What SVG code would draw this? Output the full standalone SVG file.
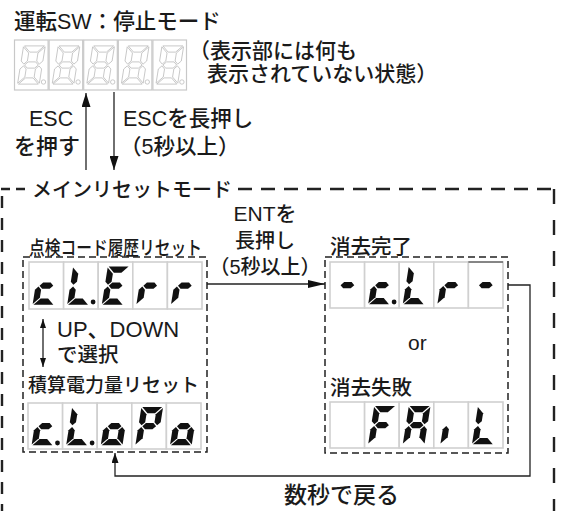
<svg xmlns="http://www.w3.org/2000/svg" width="562" height="511" viewBox="0 0 562 511">
<style>
.t{font-family:"Liberation Sans","Noto Sans CJK JP",sans-serif;font-weight:500;fill:#1a1a1a}
.cell{fill:#fff;stroke:#d0d0d0;stroke-width:1.6}
.gcell{fill:#fff;stroke:#c8c8c8;stroke-width:1.2}
.on{fill:#111}
.ghost{fill:none;stroke:#bdbdbd;stroke-width:0.8}
.box{fill:none;stroke:#222;stroke-width:1.5;stroke-dasharray:7 4}
.ln{fill:none;stroke:#222;stroke-width:1.3}
.mb{fill:none;stroke:#222;stroke-width:2.4}
</style>
<defs>
<polygon id="sa" points="-2.2,-3.1 17.7,-3.1 11.5,3.1 4,3.1"/>
<polygon id="sb" points="18.6,-2.2 18.6,12 15.5,15.1 12.4,12 12.4,4"/>
<polygon id="sc" points="15.5,16.9 18.6,20 18.6,34.2 12.4,28 12.4,20"/>
<polygon id="sd" points="4,28.9 11.5,28.9 17.7,35.1 -2.2,35.1"/>
<polygon id="se" points="0,16.9 3.1,20 3.1,28 -3.1,34.2 -3.1,20"/>
<polygon id="sf" points="-3.1,-2.2 3.1,4 3.1,12 0,15.1 -3.1,12"/>
<polygon id="sg" points="0.9,16 4,12.9 11.5,12.9 14.6,16 11.5,19.1 4,19.1"/>
<g id="k8"><use href="#sa"/><use href="#sb"/><use href="#sc"/><use href="#sd"/><use href="#se"/><use href="#sf"/><use href="#sg"/></g>
<g id="kc"><use href="#sg"/><use href="#se"/><use href="#sd"/></g>
<g id="kL"><use href="#sf"/><use href="#se"/><use href="#sd"/></g>
<g id="kE"><use href="#sa"/><use href="#sf"/><use href="#sg"/><use href="#se"/><use href="#sd"/></g>
<g id="kr"><use href="#se"/><use href="#sg"/></g>
<g id="kdash"><use href="#sg"/></g>
<g id="ko"><use href="#sc"/><use href="#sd"/><use href="#se"/><use href="#sg"/></g>
<g id="kP"><use href="#sa"/><use href="#sb"/><use href="#sf"/><use href="#sg"/><use href="#se"/></g>
<g id="kF"><use href="#sa"/><use href="#sf"/><use href="#sg"/><use href="#se"/></g>
<g id="kA"><use href="#sa"/><use href="#sb"/><use href="#sc"/><use href="#se"/><use href="#sf"/><use href="#sg"/></g>
<g id="ki"><use href="#se"/></g>
<marker id="ah" viewBox="0 0 14 9" refX="14" refY="4.5" markerWidth="14" markerHeight="9" markerUnits="userSpaceOnUse" orient="auto"><path d="M0,0 L14,4.5 L0,9 z" fill="#111"/></marker>
<marker id="ahs" viewBox="0 0 9 6" refX="9" refY="3" markerWidth="9" markerHeight="6" markerUnits="userSpaceOnUse" orient="auto-start-reverse"><path d="M0,0 L9,3 L0,6 z" fill="#111"/></marker>
<marker id="ahb" viewBox="0 0 17 8" refX="17" refY="4" markerWidth="17" markerHeight="8" markerUnits="userSpaceOnUse" orient="auto"><path d="M0,0 L17,4 L0,8 z" fill="#111"/></marker>
<marker id="ahr" viewBox="0 0 10 7" refX="10" refY="3.5" markerWidth="10" markerHeight="7" markerUnits="userSpaceOnUse" orient="auto"><path d="M0,0 L10,3.5 L0,7 z" fill="#111"/></marker>
</defs>
<rect width="562" height="511" fill="#fff"/>

<g id="stop-mode">
<text class="t" x="14" y="29" font-size="21.5">運転SW：停止モード</text>
<g id="blank-display">
<rect class="gcell" x="14.5" y="40" width="33.6" height="50"/>
<rect class="gcell" x="49.1" y="40" width="33.6" height="50"/>
<rect class="gcell" x="83.7" y="40" width="33.6" height="50"/>
<rect class="gcell" x="118.3" y="40" width="33.6" height="50"/>
<rect class="gcell" x="152.9" y="40" width="33.6" height="50"/>
<use href="#k8" class="ghost" transform="translate(26.2,49) skewX(-9)"/>
<use href="#k8" class="ghost" transform="translate(60.8,49) skewX(-9)"/>
<use href="#k8" class="ghost" transform="translate(95.4,49) skewX(-9)"/>
<use href="#k8" class="ghost" transform="translate(130,49) skewX(-9)"/>
<use href="#k8" class="ghost" transform="translate(164.6,49) skewX(-9)"/>
<circle class="ghost" cx="43.5" cy="82" r="2.2"/>
<circle class="ghost" cx="78.1" cy="82" r="2.2"/>
<circle class="ghost" cx="112.7" cy="82" r="2.2"/>
<circle class="ghost" cx="147.3" cy="82" r="2.2"/>
<circle class="ghost" cx="181.9" cy="82" r="2.2"/>
</g>
<text class="t" x="189" y="58" font-size="21">（表示部には何も</text>
<text class="t" x="207" y="81" font-size="21">表示されていない状態）</text>
</g>

<g id="esc-labels">
<text class="t" x="29" y="126" font-size="21.5">ESC</text>
<text class="t" x="14" y="154" font-size="22">を押す</text>
<text class="t" x="123" y="126" font-size="21.5">ESCを長押し</text>
<text class="t" x="120" y="154" font-size="21.5">（5秒以上）</text>
</g>

<g id="main-reset-mode">
<path class="mb" d="M1,189 H30" stroke-dasharray="9 6"/>
<path class="mb" d="M238,189 H554" stroke-dasharray="14 9"/>
<path class="mb" d="M2,196 V511" stroke-dasharray="12 10"/>
<path class="mb" d="M554,189 V511" stroke-dasharray="15 16"/>
<text class="t" x="32" y="197" font-size="20">メインリセットモード</text>
</g>

<g id="reset-select">
<rect class="box" x="23" y="257" width="184" height="195"/>
<text class="t" x="29" y="255" font-size="19" textLength="173" lengthAdjust="spacingAndGlyphs">点検コード履歴リセット</text>
<g id="clerr-display">
<rect class="cell" x="29" y="262" width="34.6" height="47"/>
<rect class="cell" x="63.6" y="262" width="34.6" height="47"/>
<rect class="cell" x="98.2" y="262" width="34.6" height="47"/>
<rect class="cell" x="132.8" y="262" width="34.6" height="47"/>
<rect class="cell" x="167.4" y="262" width="34.6" height="47"/>
<use href="#kc" class="on" transform="translate(41.2,269.7) skewX(-9)"/>
<use href="#kL" class="on" transform="translate(75.8,269.7) skewX(-9)"/>
<circle class="on" cx="93.1" cy="302" r="2.4"/>
<use href="#kE" class="on" transform="translate(110.4,269.7) skewX(-9)"/>
<use href="#kr" class="on" transform="translate(145,269.7) skewX(-9)"/>
<use href="#kr" class="on" transform="translate(179.6,269.7) skewX(-9)"/>
</g>
<text class="t" x="57" y="337" font-size="22">UP、DOWN</text>
<text class="t" x="57" y="362" font-size="20.5">で選択</text>
<text class="t" x="28" y="392" font-size="19">積算電力量リセット</text>
<g id="clopo-display">
<rect class="cell" x="28" y="403" width="34.6" height="46"/>
<rect class="cell" x="62.6" y="403" width="34.6" height="46"/>
<rect class="cell" x="97.2" y="403" width="34.6" height="46"/>
<rect class="cell" x="131.8" y="403" width="34.6" height="46"/>
<rect class="cell" x="166.4" y="403" width="34.6" height="46"/>
<use href="#kc" class="on" transform="translate(40.2,410.2) skewX(-9)"/>
<circle class="on" cx="57.5" cy="443" r="2.4"/>
<use href="#kL" class="on" transform="translate(74.8,410.2) skewX(-9)"/>
<circle class="on" cx="92.1" cy="443" r="2.4"/>
<use href="#ko" class="on" transform="translate(109.4,410.2) skewX(-9)"/>
<use href="#kP" class="on" transform="translate(144,410.2) skewX(-9)"/>
<use href="#ko" class="on" transform="translate(178.6,410.2) skewX(-9)"/>
</g>
</g>

<g id="ent-label">
<text class="t" x="265" y="221" text-anchor="middle" font-size="21">ENTを</text>
<text class="t" x="265" y="248" text-anchor="middle" font-size="20">長押し</text>
<text class="t" x="265" y="274" text-anchor="middle" font-size="20">（5秒以上）</text>
</g>

<g id="clear-result">
<rect class="box" x="325" y="257" width="183" height="196"/>
<text class="t" x="330" y="254" font-size="20.5">消去完了</text>
<g id="clr-display">
<rect class="cell" x="330" y="262" width="34.6" height="46"/>
<rect class="cell" x="364.6" y="262" width="34.6" height="46"/>
<rect class="cell" x="399.2" y="262" width="34.6" height="46"/>
<rect class="cell" x="433.8" y="262" width="34.6" height="46"/>
<rect class="cell" x="468.4" y="262" width="34.6" height="46"/>
<line x1="468.4" y1="262" x2="503" y2="262" stroke="#333" stroke-width="1"/>
<use href="#kdash" class="on" transform="translate(342.2,269.2) skewX(-9)"/>
<use href="#kc" class="on" transform="translate(376.8,269.2) skewX(-9)"/>
<circle class="on" cx="394.1" cy="302" r="2.4"/>
<use href="#kL" class="on" transform="translate(411.4,269.2) skewX(-9)"/>
<use href="#kr" class="on" transform="translate(446,269.2) skewX(-9)"/>
<use href="#kdash" class="on" transform="translate(480.6,269.2) skewX(-9)"/>
</g>
<text class="t" x="408" y="350" font-size="21">or</text>
<text class="t" x="330" y="395" font-size="20.5">消去失敗</text>
<g id="fail-display">
<rect class="cell" x="330" y="402" width="34.6" height="46"/>
<rect class="cell" x="364.6" y="402" width="34.6" height="46"/>
<rect class="cell" x="399.2" y="402" width="34.6" height="46"/>
<rect class="cell" x="433.8" y="402" width="34.6" height="46"/>
<rect class="cell" x="468.4" y="402" width="34.6" height="46"/>
<use href="#kF" class="on" transform="translate(376.8,409.2) skewX(-9)"/>
<use href="#kA" class="on" transform="translate(411.4,409.2) skewX(-9)"/>
<use href="#ki" class="on" transform="translate(449,409.2) skewX(-9)"/>
<use href="#kL" class="on" transform="translate(480.6,409.2) skewX(-9)"/>
</g>
</g>

<g id="return-label">
<text class="t" x="284" y="503" font-size="23">数秒で戻る</text>
</g>

<g id="connectors">
<line class="ln" x1="86" y1="170" x2="86" y2="93"  marker-end="url(#ah)"/>
<line class="ln" x1="114" y1="92" x2="114" y2="170" marker-end="url(#ah)"/>
<line class="ln" x1="43" y1="319" x2="43" y2="367" marker-start="url(#ahs)" marker-end="url(#ahs)"/>
<path class="ln" d="M207,284 H325" marker-end="url(#ahb)"/>
<path class="ln" d="M508,285 H530 V476 H115 V453" marker-end="url(#ahr)"/>
</g>
</svg>
